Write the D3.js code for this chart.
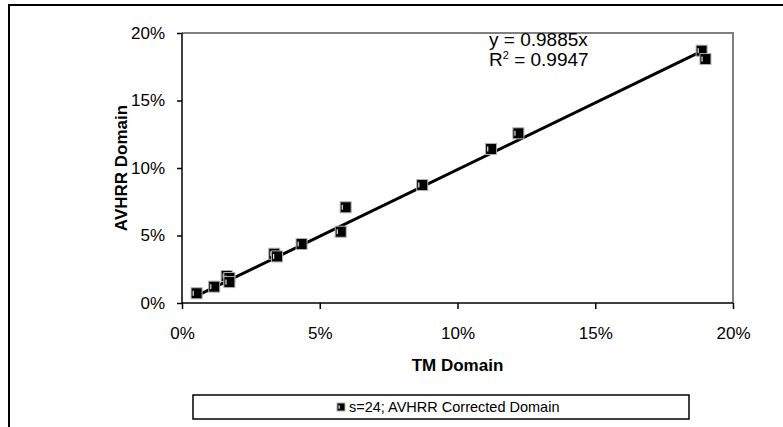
<!DOCTYPE html>
<html>
<head>
<meta charset="utf-8">
<script src="https://cdn.jsdelivr.net/npm/d3@7"></script>
<style>
  html, body { margin: 0; padding: 0; background: #fff; }
  svg { display: block; font-family: "Liberation Sans", Arial, sans-serif; }
</style>
</head>
<body>
<svg id="chart" width="783" height="427"></svg>
<script>
// TM vs AVHRR domain fractions (percent)
const tmDomain    = [0.53, 1.17, 1.62, 1.72, 1.72, 3.35, 3.45, 4.34, 5.76, 5.94, 8.72, 11.22, 12.21, 18.86, 19.00];
const avhrrDomain = [0.72, 1.21, 2.00, 1.85, 1.55, 3.65, 3.45, 4.37, 5.28, 7.09, 8.74, 11.41, 12.57, 18.69, 18.07];
const slope = 0.9885;
const rSquared = 0.9947;
const xTicks = [0, 5, 10, 15, 20];
const yTicks = [0, 5, 10, 15, 20];
const seriesName = "s=24; AVHRR Corrected Domain";

const svg = d3.select("#chart");
const plot = { left: 182, right: 733, top: 33, bottom: 303 };

const x = d3.scaleLinear().domain([0, 20]).range([plot.left, plot.right]);
const y = d3.scaleLinear().domain([0, 20]).range([plot.bottom, plot.top]);
const pct = d => d + "%";

// outer chart frame
svg.append("rect")
  .attr("x", 9).attr("y", 5).attr("width", 800).attr("height", 460)
  .attr("fill", "none").attr("stroke", "#000").attr("stroke-width", 2);

// plot area border (top/right)
svg.append("path")
  .attr("d", `M${plot.left},${plot.top}H${plot.right}V${plot.bottom}`)
  .attr("fill", "none").attr("stroke", "#808080").attr("stroke-width", 2);

// axes
const xAxis = svg.append("g")
  .attr("transform", `translate(0,${plot.bottom})`)
  .call(d3.axisBottom(x).tickValues(xTicks).tickFormat(pct).tickSize(6).tickPadding(18));
const yAxis = svg.append("g")
  .attr("transform", `translate(${plot.left},0)`)
  .call(d3.axisLeft(y).tickValues(yTicks).tickFormat(pct).tickSize(5).tickPadding(12));

[xAxis, yAxis].forEach(g => {
  g.select(".domain").attr("stroke", "#000").attr("stroke-width", 1.5);
  g.selectAll(".tick line").attr("stroke", "#000").attr("stroke-width", 1.5);
  g.selectAll(".tick text")
    .attr("fill", "#000")
    .style("font-family", '"Liberation Sans", Arial, sans-serif')
    .style("font-size", "17px");
});
// plain axis lines without end caps
xAxis.select(".domain").attr("d", `M${plot.left},0H${plot.right}`);
yAxis.select(".domain").attr("d", `M0,${plot.top}V${plot.bottom}`);

// axis titles
svg.append("text")
  .attr("x", (plot.left + plot.right) / 2).attr("y", 371)
  .attr("text-anchor", "middle")
  .style("font-size", "17px").style("font-weight", "bold")
  .text("TM Domain");
svg.append("text")
  .attr("transform", `translate(127,${(plot.top + plot.bottom) / 2}) rotate(-90)`)
  .attr("text-anchor", "middle")
  .style("font-size", "17px").style("font-weight", "bold")
  .text("AVHRR Domain");

// trendline through the origin, over the data range
const xMin = d3.min(tmDomain), xMax = d3.max(tmDomain);
svg.append("line")
  .attr("x1", x(xMin)).attr("y1", y(slope * xMin))
  .attr("x2", x(xMax)).attr("y2", y(slope * xMax))
  .attr("stroke", "#000").attr("stroke-width", 3);

// square markers: black body, pale edge and a thin highlight on the left
function marker(g, cx, cy, s) {
  const h = s / 2;
  g.append("rect")
    .attr("x", cx - h).attr("y", cy - h).attr("width", s).attr("height", s)
    .attr("fill", "#000").attr("stroke", "#b0b0b0").attr("stroke-width", 1);
  g.append("rect")
    .attr("x", cx - h + 1.5).attr("y", cy - h * 0.45).attr("width", 1.2).attr("height", s * 0.45)
    .attr("fill", "#e8e8e8");
}
const pts = svg.append("g");
tmDomain.forEach((v, i) => marker(pts, x(v), y(avhrrDomain[i]), 11));

// regression equation
svg.append("text")
  .attr("x", 489).attr("y", 46)
  .style("font-size", "19px")
  .text(`y = ${slope}x`);
const r2 = svg.append("text").style("font-size", "19px").attr("x", 489).attr("y", 66);
r2.append("tspan").text("R");
r2.append("tspan").attr("dy", -7).style("font-size", "11px").text("2");
r2.append("tspan").attr("dy", 7).text(` = ${rSquared}`);

// legend
svg.append("rect")
  .attr("x", 193).attr("y", 395).attr("width", 496).attr("height", 24)
  .attr("fill", "#fff").attr("stroke", "#000").attr("stroke-width", 1.5);
marker(svg.append("g"), 341, 407, 8);
svg.append("text")
  .attr("x", 349).attr("y", 412)
  .style("font-size", "14.5px")
  .text(seriesName);
</script>
</body>
</html>
